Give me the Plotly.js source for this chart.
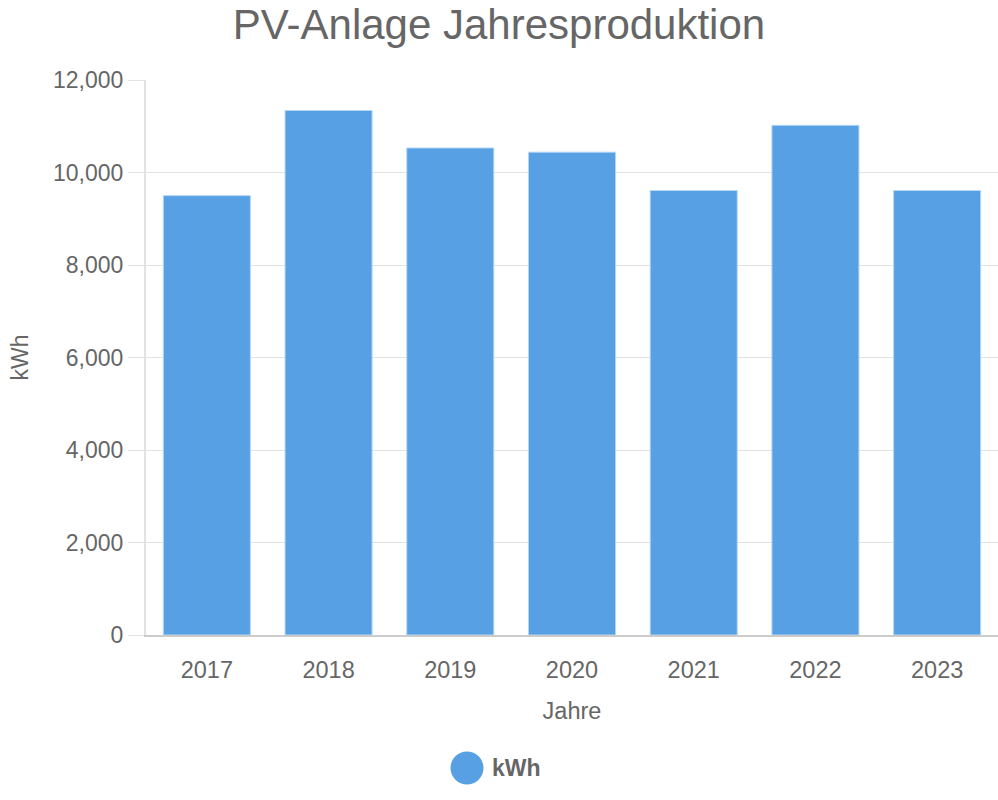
<!DOCTYPE html>
<html>
<head>
<meta charset="utf-8">
<script src="https://cdn.plot.ly/plotly-3.0.1.min.js"></script>
<style>html,body{margin:0;padding:0;background:#fff;}#chart{width:998px;height:800px;}</style>
</head>
<body>
<div id="chart"></div>
<script>
const years = ['2017', '2018', '2019', '2020', '2021', '2022', '2023'];
const production = [9500, 11340, 10530, 10440, 9610, 11020, 9610];
const yTicks = [0, 2000, 4000, 6000, 8000, 10000, 12000];
const seriesName = 'kWh';

const textColor = '#666666';
const barColor = '#56a0e3';

const trace = {
  type: 'bar',
  x: years,
  y: production,
  name: seriesName,
  marker: { color: barColor, line: { color: '#b4d6f5', width: 1 } },
  showlegend: false,
  hoverinfo: 'x+y'
};

const layout = {
  width: 998,
  height: 800,
  margin: { l: 146, r: 0, t: 80, b: 165 },
  paper_bgcolor: '#ffffff',
  plot_bgcolor: '#ffffff',
  font: { family: 'Liberation Sans, Arial, sans-serif', color: textColor, size: 23 },
  title: {
    text: 'PV-Anlage Jahresproduktion',
    font: { size: 42, color: textColor },
    x: 0.5, xanchor: 'center',
    y: 0.97, yanchor: 'middle', yref: 'container'
  },
  bargap: 0.285,
  xaxis: {
    type: 'category',
    showgrid: false,
    showline: true,
    linecolor: '#cccccc',
    linewidth: 2,
    ticks: '',
    ticklabelstandoff: 13,
    tickfont: { size: 23.5, color: textColor },
    title: { text: 'Jahre', font: { size: 23.5, color: textColor }, standoff: 20 }
  },
  yaxis: {
    range: [0, 12000],
    tickvals: yTicks,
    tickformat: ',d',
    showgrid: true,
    gridcolor: '#e2e2e2',
    gridwidth: 1,
    showline: true,
    linecolor: '#e2e2e2',
    linewidth: 2,
    zeroline: false,
    ticks: 'outside',
    ticklen: 16,
    tickcolor: '#e2e2e2',
    tickwidth: 1,
    tickfont: { size: 23, color: textColor },
    title: { text: 'kWh', font: { size: 23, color: textColor }, standoff: 18 }
  },
  shapes: [{
    type: 'circle',
    xref: 'paper', yref: 'paper',
    xsizemode: 'pixel', ysizemode: 'pixel',
    xanchor: (467 - 146) / 852, yanchor: -(768 - 635) / 555,
    x0: -16.5, x1: 16.5, y0: -16.5, y1: 16.5,
    fillcolor: barColor,
    line: { width: 0 }
  }],
  annotations: [{
    xref: 'paper', yref: 'paper',
    x: (490 - 146) / 852, y: -(768 - 635) / 555,
    xanchor: 'left', yanchor: 'middle',
    text: '<b>' + seriesName + '</b>',
    showarrow: false,
    font: { size: 23, color: textColor }
  }]
};

Plotly.newPlot('chart', [trace], layout, { displayModeBar: false, responsive: false });
</script>
</body>
</html>
